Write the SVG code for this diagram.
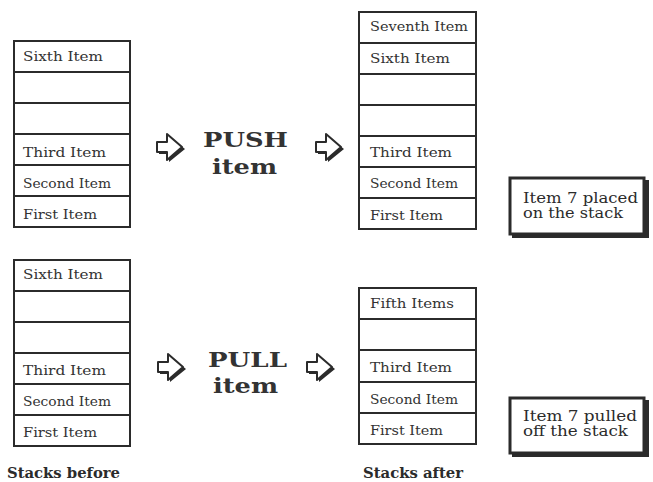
<svg xmlns="http://www.w3.org/2000/svg" width="653" height="482" viewBox="0 0 653 482">
<style>
.cell{fill:#fff;stroke:#2b2b2b;stroke-width:2}
.t{font-family:"DejaVu Serif","Liberation Serif",serif;font-size:13px;fill:#333}
.op{font-family:"DejaVu Serif","Liberation Serif",serif;font-size:21px;font-weight:bold;fill:#333}
.note{fill:#fff;stroke:#2b2b2b;stroke-width:3}
.nt{font-family:"DejaVu Serif","Liberation Serif",serif;font-size:14.5px;fill:#2b2b2b}
.cap{font-family:"DejaVu Serif","Liberation Serif",serif;font-size:14px;font-weight:bold;fill:#2b2b2b}
.arr{fill:#fff;stroke:#2b2b2b;stroke-width:2;stroke-linejoin:round}
.sh{fill:#2b2b2b}
</style>
<defs>
<g id="arrow">
<path class="sh" d="M3 11 H13 V3 L29 16 L13 29 V21 H3 Z"/>
<path class="arr" d="M1 9 H11 V1 L26 14 L11 27 V19 H1 Z"/>
</g>
</defs>
<rect x="0" y="0" width="653" height="482" fill="#fff"/>

<g id="stack-before-push">
<rect class="cell" x="14" y="41" width="116" height="31"/>
<rect class="cell" x="14" y="72" width="116" height="31"/>
<rect class="cell" x="14" y="103" width="116" height="31"/>
<rect class="cell" x="14" y="134" width="116" height="31"/>
<rect class="cell" x="14" y="165" width="116" height="31"/>
<rect class="cell" x="14" y="196" width="116" height="31"/>
<text class="t" x="23" y="61" textLength="80" lengthAdjust="spacingAndGlyphs">Sixth Item</text>
<text class="t" x="23" y="157" textLength="83" lengthAdjust="spacingAndGlyphs">Third Item</text>
<text class="t" x="23" y="188" textLength="88" lengthAdjust="spacingAndGlyphs">Second Item</text>
<text class="t" x="23" y="219" textLength="74" lengthAdjust="spacingAndGlyphs">First Item</text>
</g>

<g id="stack-after-push">
<rect class="cell" x="359" y="12" width="117" height="31"/>
<rect class="cell" x="359" y="43" width="117" height="31"/>
<rect class="cell" x="359" y="74" width="117" height="31"/>
<rect class="cell" x="359" y="105" width="117" height="31"/>
<rect class="cell" x="359" y="136" width="117" height="31"/>
<rect class="cell" x="359" y="167" width="117" height="31"/>
<rect class="cell" x="359" y="198" width="117" height="31"/>
<text class="t" x="370" y="31" textLength="98" lengthAdjust="spacingAndGlyphs">Seventh Item</text>
<text class="t" x="370" y="63" textLength="80" lengthAdjust="spacingAndGlyphs">Sixth Item</text>
<text class="t" x="370" y="157" textLength="82" lengthAdjust="spacingAndGlyphs">Third Item</text>
<text class="t" x="370" y="188" textLength="88" lengthAdjust="spacingAndGlyphs">Second Item</text>
<text class="t" x="370" y="220" textLength="73" lengthAdjust="spacingAndGlyphs">First Item</text>
</g>

<g id="stack-before-pull">
<rect class="cell" x="14" y="260" width="116" height="31"/>
<rect class="cell" x="14" y="291" width="116" height="31"/>
<rect class="cell" x="14" y="322" width="116" height="31"/>
<rect class="cell" x="14" y="353" width="116" height="31"/>
<rect class="cell" x="14" y="384" width="116" height="31"/>
<rect class="cell" x="14" y="415" width="116" height="31"/>
<text class="t" x="23" y="279" textLength="80" lengthAdjust="spacingAndGlyphs">Sixth Item</text>
<text class="t" x="23" y="375" textLength="83" lengthAdjust="spacingAndGlyphs">Third Item</text>
<text class="t" x="23" y="406" textLength="88" lengthAdjust="spacingAndGlyphs">Second Item</text>
<text class="t" x="23" y="437" textLength="74" lengthAdjust="spacingAndGlyphs">First Item</text>
</g>

<g id="stack-after-pull">
<rect class="cell" x="359" y="288" width="117" height="31"/>
<rect class="cell" x="359" y="319" width="117" height="31"/>
<rect class="cell" x="359" y="350" width="117" height="32"/>
<rect class="cell" x="359" y="382" width="117" height="31"/>
<rect class="cell" x="359" y="413" width="117" height="31"/>
<text class="t" x="370" y="308" textLength="84" lengthAdjust="spacingAndGlyphs">Fifth Items</text>
<text class="t" x="370" y="372" textLength="82" lengthAdjust="spacingAndGlyphs">Third Item</text>
<text class="t" x="370" y="404" textLength="88" lengthAdjust="spacingAndGlyphs">Second Item</text>
<text class="t" x="370" y="435" textLength="73" lengthAdjust="spacingAndGlyphs">First Item</text>
</g>

<g id="push-op">
<use href="#arrow" x="156" y="133"/>
<text class="op" x="203" y="147" textLength="85" lengthAdjust="spacingAndGlyphs">PUSH</text>
<text class="op" x="212" y="174" textLength="65" lengthAdjust="spacingAndGlyphs">item</text>
<use href="#arrow" x="315" y="133"/>
</g>

<g id="pull-op">
<use href="#arrow" x="157" y="353"/>
<text class="op" x="208" y="367" textLength="79" lengthAdjust="spacingAndGlyphs">PULL</text>
<text class="op" x="213" y="393" textLength="65" lengthAdjust="spacingAndGlyphs">item</text>
<use href="#arrow" x="306" y="353"/>
</g>

<g id="note-push">
<rect class="sh" x="512" y="180" width="137" height="58"/>
<rect class="note" x="510" y="178" width="134" height="56"/>
<text class="nt" x="523" y="203" textLength="115" lengthAdjust="spacingAndGlyphs">Item 7 placed</text>
<text class="nt" x="523" y="218" textLength="100" lengthAdjust="spacingAndGlyphs">on the stack</text>
</g>

<g id="note-pull">
<rect class="sh" x="512" y="400" width="137" height="57"/>
<rect class="note" x="510" y="398" width="134" height="55"/>
<text class="nt" x="523" y="421" textLength="114" lengthAdjust="spacingAndGlyphs">Item 7 pulled</text>
<text class="nt" x="523" y="436" textLength="105" lengthAdjust="spacingAndGlyphs">off the stack</text>
</g>

<text class="cap" x="7" y="478" textLength="113" lengthAdjust="spacingAndGlyphs">Stacks before</text>
<text class="cap" x="363" y="478" textLength="100" lengthAdjust="spacingAndGlyphs">Stacks after</text>
</svg>
